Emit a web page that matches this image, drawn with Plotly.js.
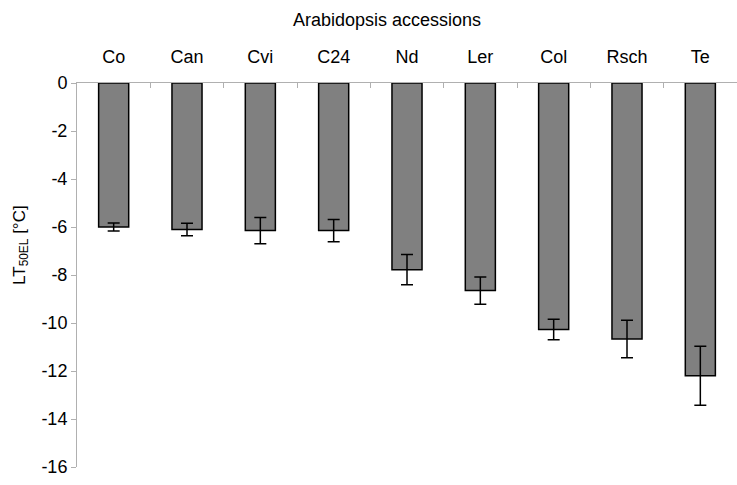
<!DOCTYPE html>
<html>
<head>
<meta charset="utf-8">
<script src="https://cdn.plot.ly/plotly-3.0.1.min.js"></script>
<style>body{margin:0;background:#fff}</style>
</head>
<body>
<div id="chart" style="width:737px;height:485px"></div>
<script>
// LT50 values of Arabidopsis accessions
const accessions = ['Co', 'Can', 'Cvi', 'C24', 'Nd', 'Ler', 'Col', 'Rsch', 'Te'];
const lt50 = [-6.0, -6.1, -6.15, -6.15, -7.78, -8.65, -10.27, -10.67, -12.2];
const errs = [0.17, 0.26, 0.55, 0.46, 0.63, 0.57, 0.43, 0.78, 1.23];
const yTicks = [0, -2, -4, -6, -8, -10, -12, -14, -16];
const yTickText = ['0', '-2', '-4', '-6', '-8', '-10', '-12', '-14', '-16'];

const trace = {
  x: accessions,
  y: lt50,
  type: 'bar',
  marker: { color: '#808080', line: { color: '#000', width: 1.5 } },
  error_y: { type: 'data', array: errs, visible: true, color: '#000', thickness: 1.5, width: 6 },
  hoverinfo: 'x+y'
};

const layout = {
  width: 737,
  height: 485,
  margin: { l: 77, r: 0, t: 83, b: 18 },
  paper_bgcolor: '#fff',
  plot_bgcolor: '#fff',
  font: { family: 'Liberation Sans, Arial, sans-serif', size: 18, color: '#000' },
  bargap: 0.59,
  showlegend: false,
  xaxis: {
    side: 'top',
    automargin: false,
    ticklabelstandoff: 12,
    showline: true, linecolor: '#b0b0b0', linewidth: 1,
    ticks: 'inside', tickson: 'boundaries', ticklen: 5, tickcolor: '#b0b0b0',
    showgrid: false, zeroline: false
  },
  yaxis: {
    range: [-16, 0],
    automargin: false,
    tickvals: yTicks, ticktext: yTickText,
    showline: true, linecolor: '#b0b0b0', linewidth: 1,
    ticks: 'outside', ticklen: 5, tickcolor: '#b0b0b0',
    showgrid: false, zeroline: false
  },
  // axis titles sit off-centre in the original, so place them as annotations
  annotations: [
    {
      text: 'Arabidopsis accessions', xref: 'paper', yref: 'paper',
      x: 0.47, y: 1.164, xanchor: 'center', yanchor: 'middle',
      showarrow: false, font: { size: 18 }
    },
    {
      text: 'LT<sub>50EL</sub> [°C]', xref: 'paper', yref: 'paper',
      x: -0.085, y: 0.578, xanchor: 'center', yanchor: 'middle',
      textangle: -90, showarrow: false, font: { size: 17 }
    }
  ]
};

Plotly.newPlot('chart', [trace], layout, { displayModeBar: false });
</script>
</body>
</html>
